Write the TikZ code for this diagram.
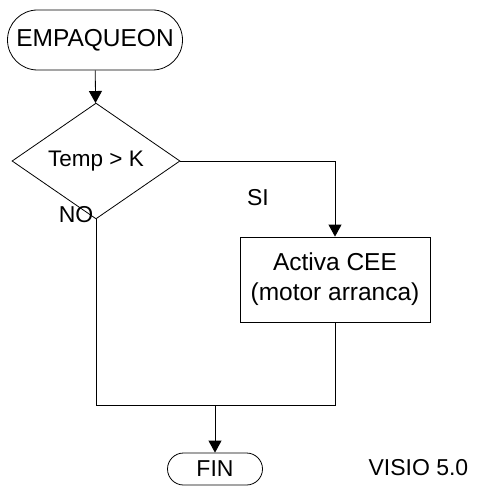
\documentclass[tikz,border=0pt]{standalone}
\usepackage{fontspec}
\setmainfont{Liberation Sans}
\usetikzlibrary{arrows.meta,positioning,shapes.geometric,shapes.misc}

\begin{document}
\begin{tikzpicture}[
      x=1pt, y=-1pt,
      every node/.style={font=\fontsize{23}{27}\selectfont},
      terminal/.style={rounded rectangle, draw, line width=0.8pt, inner sep=0pt},
      decision/.style={diamond, draw, line width=0.8pt, inner sep=0pt, minimum width=168pt, minimum height=85pt},
      process/.style={rectangle, draw, line width=0.8pt, align=center, minimum width=190pt, minimum height=85pt, font=\fontsize{24.5}{30}\selectfont},
      arrow/.style={-{Triangle[length=12pt,width=13pt]}, line width=0.8pt},
      line/.style={line width=0.8pt}
  ]
    \useasboundingbox (0,0) rectangle (477,489);
    \node[terminal, minimum width=175pt, minimum height=60pt, font=\fontsize{24.5}{28}\selectfont] (start) at (95,40) {EMPAQUEON};
    \node[decision, font=\fontsize{22.5}{27}\selectfont] (test) at (96,161) {Temp > K};
    \node[process] (cee) at (335,279.5) {Activa CEE\\(motor arranca)};
    \node[terminal, minimum width=95pt, minimum height=32pt] (fin) at (215,469) {FIN};
    \coordinate (joinr) at (335,405);
    \coordinate (joinm) at (215,405);
    \node (no) at (76,215) {NO};
    \node (si) at (258,198) {SI};
    \node[anchor=west] (visio) at (365,468) {VISIO 5.0};
    \draw[arrow] (start) -- (test);
    \draw[arrow] (test.east) -| (cee.north);
    \draw[line] (test.south) |- (joinr) -- (cee.south);
    \draw[arrow] (joinm) -- (fin);
  \end{tikzpicture}
\end{document}
